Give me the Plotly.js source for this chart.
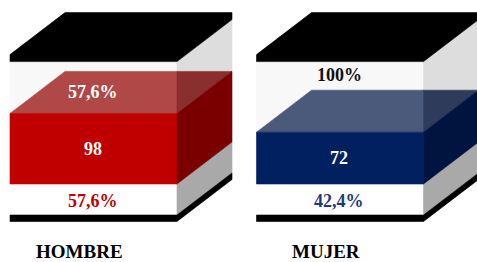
<!DOCTYPE html>
<html>
<head>
<meta charset="utf-8">
<script src="https://cdn.plot.ly/plotly-3.0.1.min.js"></script>
<style>html,body{margin:0;padding:0;background:#fff}#chart{width:477px;height:262px}</style>
</head>
<body>
<div id="chart"></div>
<script>
// ---- data ----
const categories = ['HOMBRE', 'MUJER'];
const counts = [98, 72];
const bottomLabels = ['57,6%', '42,4%'];
const topLabels = ['57,6%', '100%'];

// ---- styles ----
const frontColors = ['#c00000', '#002060'];
const topColors = ['#b04848', '#4b5a7b'];
const topSideColors = ['#8b2e2e', '#2e3b5b'];
const sideColors = ['#7a0000', '#001440'];
const bottomLabelColors = ['#c00000', '#1f3a78'];
const topLabelColors = ['#ffffff', '#111111'];

// ---- geometry (axis units) ----
const total = counts.reduce((a, b) => a + b, 0);
const PXX = 1 / 246.5;      // x units per pixel
const PXY = 1 / 0.72;       // y units per pixel
const W = 167 * PXX;
const DX = 55 * PXX;
const DY = 42 * PXY;
const LID = 7 * PXY;
const BASE = -31 * PXY;
const BASETH = 6.5 * PXY;

function poly(xs, ys, color) {
  return {
    type: 'scatter', mode: 'lines',
    x: xs.concat([xs[0]]), y: ys.concat([ys[0]]),
    fill: 'toself', fillcolor: color,
    line: {width: 0.6, color: color},
    hoverinfo: 'skip', showlegend: false
  };
}

const traces = [];
const annotations = [];
const font = (size, color) => ({family: 'Liberation Serif, Times New Roman, serif', size: size, color: color, weight: 'bold'});

categories.forEach((cat, i) => {
  const v = counts[i];
  const T = total;
  const L = i - W / 2, R = i + W / 2;
  // front upper face
  traces.push(poly([L, R, R, L], [v, v, T, T], '#f8f8f8'));
  // side faces
  traces.push(poly([R, R, R + DX, R + DX], [v, T, T + DY, v + DY], '#dddddd'));
  traces.push(poly([R, R, R + DX, R + DX], [BASE, 0, DY, BASE + DY], '#a9a9a9'));
  // block top face
  traces.push(poly([L, R, R, L + DX], [v, v, v + DY, v + DY], topColors[i]));
  traces.push(poly([R, R + DX, R], [v, v + DY, v + DY], topSideColors[i]));
  // block front and side
  traces.push(poly([L, R, R, L], [0, 0, v, v], frontColors[i]));
  traces.push(poly([R, R, R + DX, R + DX], [0, v, v + DY, DY], sideColors[i]));
  // lid
  traces.push(poly([L, L, L + DX, R + DX, R + DX, R], [T, T + LID, T + DY + LID, T + DY + LID, T + DY, T], '#000000'));
  // base plate
  traces.push(poly([L, R, R + DX, R + DX, R, L], [BASE, BASE, BASE + DY, BASE + DY - BASETH, BASE - BASETH, BASE - BASETH], '#000000'));

  // labels
  annotations.push({x: i, y: v / 2, text: String(v), showarrow: false, font: font(18, '#ffffff'), xshift: -1});
  annotations.push({x: i, y: BASE / 2, text: bottomLabels[i], showarrow: false, font: font(18, bottomLabelColors[i]), xshift: -1, yshift: -1});
  const ty = i === 0 ? v + DY / 2 : T - 13 * PXY;
  annotations.push({x: i, y: ty, text: topLabels[i], showarrow: false, font: font(18, topLabelColors[i]), xshift: -1, yshift: 0});
  annotations.push({x: i, y: -67 * PXY, text: cat, showarrow: false, font: font(19, '#000000'), xshift: -14, borderpad: 0});
});

const layout = {
  width: 477, height: 262,
  margin: {l: 0, r: 0, t: 0, b: 0},
  paper_bgcolor: '#ffffff', plot_bgcolor: '#ffffff',
  xaxis: {range: [-93.5 * PXX, (477 - 93.5) * PXX], visible: false, fixedrange: true},
  yaxis: {range: [-(262 - 184) * PXY, 184 * PXY], visible: false, fixedrange: true},
  showlegend: false,
  annotations: annotations
};

Plotly.newPlot('chart', traces, layout, {staticPlot: true, displayModeBar: false});
</script>
</body>
</html>
